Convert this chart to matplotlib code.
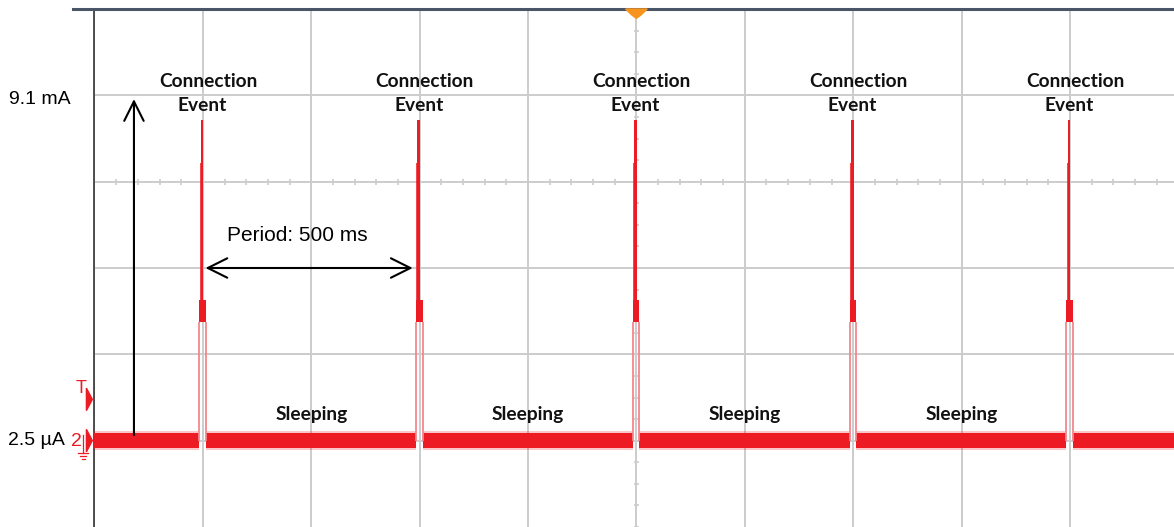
import numpy as np
import matplotlib.pyplot as plt
from matplotlib.patches import Rectangle, Polygon

# scope setup: 250 ms/div horizontally, 2.3 mA/div vertically
ms_per_div = 250
ma_per_div = 2.3
x_span_ms = (0, 2490)
y_span_ma = (-2.3, 11.5)

# supply current trace
event_ms = [248, 748, 1248, 1748, 2248]
peak_ma = [8.55, 8.55, 8.55, 8.55, 8.55]
radio_ma = [7.4, 7.4, 7.4, 7.4, 7.4]
tail_top_ma = [3.75, 3.75, 3.75, 3.75, 3.75]
tail_bottom_ma = [3.15, 3.15, 3.15, 3.15, 3.15]
sleep_ma = 0.0025
noise_ma = 0.19

# annotations
sleep_label_ms = [500, 1000, 1500, 2000]
marker_ma = 9.1
trigger_ma = 1.1
period_ms = 500

RED = "#ed1c24"
PINK = "#f5878c"
GRID = "#cccccc"

fig = plt.figure(figsize=(11.74, 5.27), dpi=100)
ax = fig.add_axes([94.5 / 1174, 0, 1 - 94.5 / 1174, 518 / 527])
ax.set_xlim(*x_span_ms)
ax.set_ylim(*y_span_ma)

# graticule
ax.set_xticks(np.arange(0, x_span_ms[1], ms_per_div))
ax.set_yticks(np.arange(0, y_span_ma[1], ma_per_div))
ax.grid(True, color=GRID, lw=1.4)
ax.tick_params(length=0, labelbottom=False, labelleft=False)
for side in ("top", "right", "bottom"):
    ax.spines[side].set_visible(False)
ax.spines["left"].set_color("#333333")
ax.spines["left"].set_linewidth(1.2)

x_mid = 5 * ms_per_div
y_mid = 3 * ma_per_div
ax.vlines(np.arange(50, x_span_ms[1], 50), y_mid - 0.08, y_mid + 0.08, color=GRID, lw=1.2)
ax.hlines(np.arange(y_span_ma[0], y_span_ma[1], ma_per_div / 4), x_mid - 6, x_mid + 6,
          color=GRID, lw=1.2)

# sleep current band, broken where each connection event starts
gap_left, gap_right = 6.2, 8.8
edges = [x_span_ms[0]]
for t in event_ms:
    edges += [t - gap_left, t + gap_right]
edges.append(x_span_ms[1])
for a, b in zip(edges[::2], edges[1::2]):
    ax.fill_between([a, b], sleep_ma - noise_ma * 1.35, sleep_ma + noise_ma * 1.35,
                    color=RED, alpha=0.25, lw=0, zorder=3)
    ax.fill_between([a, b], sleep_ma - noise_ma, sleep_ma + noise_ma,
                    color=RED, lw=0, zorder=3)

# connection event pulses
for t, pk, rd, tt, tb in zip(event_ms, peak_ma, radio_ma, tail_top_ma, tail_bottom_ma):
    ax.vlines([t - gap_left, t + gap_right], sleep_ma, tb, color=PINK, lw=1.3, zorder=3)
    ax.add_patch(Rectangle((t - gap_left, tb), gap_left + gap_right, tt - tb,
                           color=RED, lw=0, zorder=4))
    ax.add_patch(Rectangle((t - 3.2, tt), 6.4, pk - tt, color=RED, lw=0, zorder=4))
    ax.add_patch(Rectangle((t - 5.3, tt), 2.1, rd - tt, color=RED, lw=0, alpha=0.8, zorder=4))

# labels
lab_font = dict(family=["Lato", "DejaVu Sans"], weight="bold", fontsize=13.8, color="#111111")
for t in event_ms:
    ax.text(t + 14, 9.58, "Connection", ha="center", va="center", **lab_font)
    ax.text(t, 8.92, "Event", ha="center", va="center", **lab_font)
for t in sleep_label_ms:
    ax.text(t, 0.69, "Sleeping", ha="center", va="center", **lab_font)

arrow = dict(arrowstyle="->,head_length=0.7,head_width=0.35", color="black", lw=1.5,
             mutation_scale=20, shrinkA=0, shrinkB=0)
ax.annotate("", xy=(91, marker_ma), xytext=(91, 0.15), arrowprops=arrow)
ax.annotate("", xy=(event_ms[0] + period_ms - 14, 2 * ma_per_div),
            xytext=(event_ms[0] + 8, 2 * ma_per_div),
            arrowprops=dict(arrow, arrowstyle="<->,head_length=0.7,head_width=0.35"))
ax.text(467, 5.46, f"Period: {period_ms} ms", ha="center", va="center",
        family="Liberation Sans", fontsize=15)

# channel readouts left of the screen
ytf = ax.get_yaxis_transform()
ax.text(-0.022, marker_ma, "9.1 mA", transform=ytf, ha="right", va="center",
        family="Liberation Sans", fontsize=14, clip_on=False)
ax.text(-0.027, sleep_ma, "2.5 µA", transform=ytf, ha="right", va="center",
        family="Liberation Sans", fontsize=14, clip_on=False)

tri = np.array([[-0.0075, 0.3], [-0.002, 0.0], [-0.0075, -0.3]])
for level in (trigger_ma, sleep_ma):
    ax.add_patch(Polygon(tri + [0, level], closed=True, transform=ytf, color=RED,
                         clip_on=False, zorder=5))
ax.text(-0.0125, trigger_ma + 0.28, "T", transform=ytf, ha="center", va="center",
        family="Liberation Sans", fontsize=13, color=RED, clip_on=False)
ax.text(-0.0165, sleep_ma - 0.03, "2", transform=ytf, ha="center", va="center",
        family="Liberation Sans", fontsize=14, color=RED, clip_on=False)
gx = -0.0105
ax.plot([gx, gx], [0.15, -0.33], transform=ytf, color=RED, lw=0.9, clip_on=False)
for w, dy in ((0.009, -0.33), (0.006, -0.41), (0.003, -0.49)):
    ax.plot([gx - w / 2, gx + w / 2], [dy, dy], transform=ytf, color=RED, lw=0.9,
            clip_on=False)

# frame top edge and trigger position marker
xtf = ax.get_xaxis_transform()
ax.plot([-0.02, 1], [1, 1], transform=ax.transAxes, color="#4a5668", lw=2.2,
        clip_on=False, zorder=6)
ax.add_patch(Polygon([[x_mid - 25, 1], [x_mid + 25, 1], [x_mid + 10, 0.988],
                      [x_mid, 0.982], [x_mid - 10, 0.988]], closed=True,
                     transform=xtf, color="#f7941d", clip_on=False, zorder=7))

fig.savefig("out.png", dpi=100)
